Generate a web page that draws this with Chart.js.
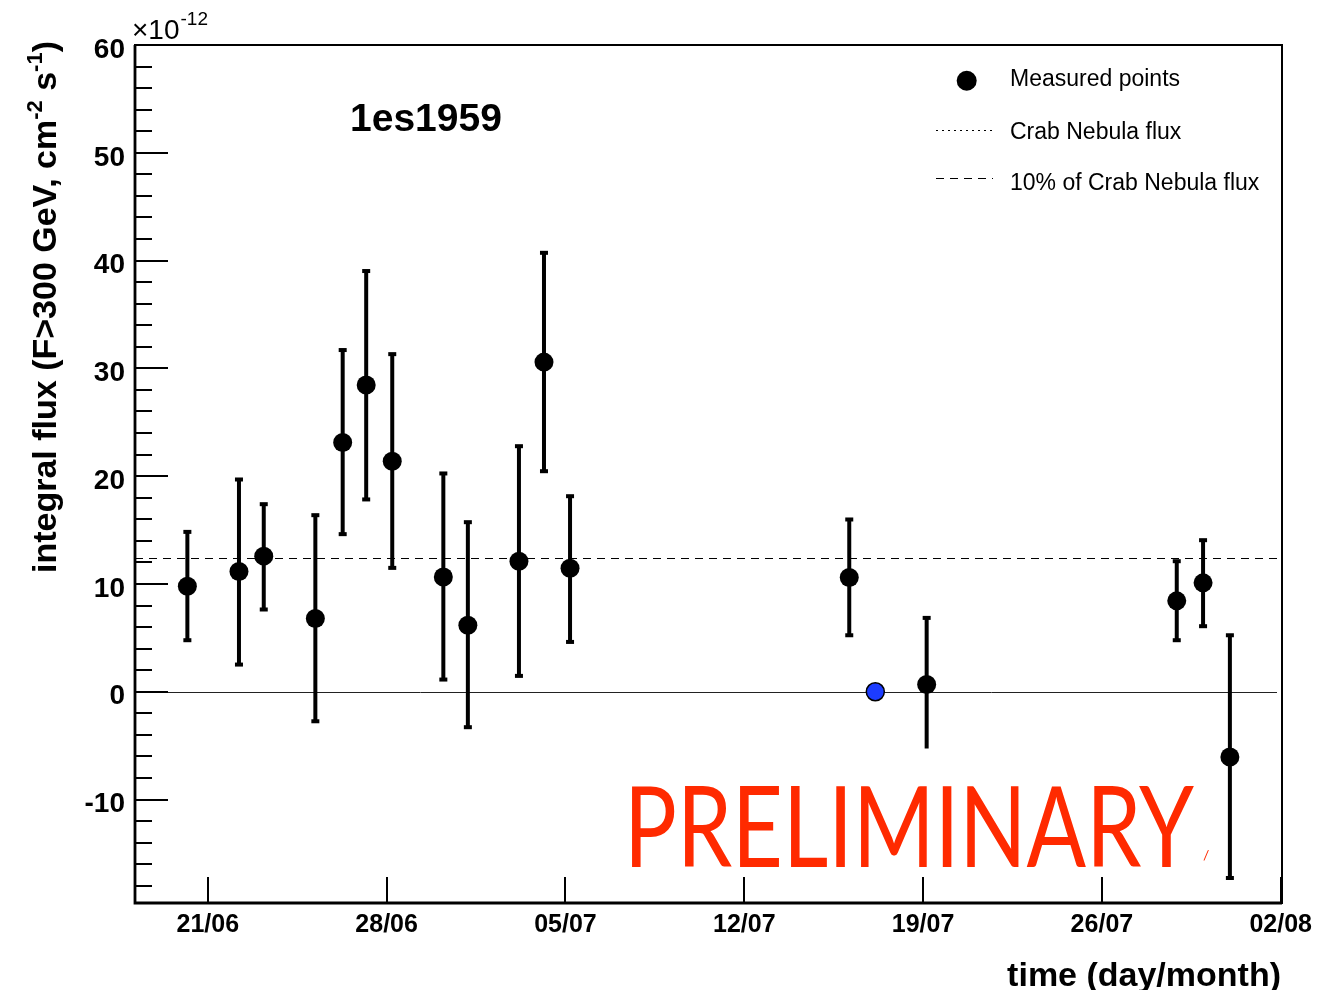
<!DOCTYPE html>
<html><head><meta charset="utf-8">
<script src="https://cdn.jsdelivr.net/npm/chart.js@4.4.1/dist/chart.umd.min.js"></script>
<style>html,body{margin:0;padding:0;background:#fff}#wrap{width:1322px;height:990px;position:relative}</style>
</head><body><div id="wrap"><canvas id="c" width="1322" height="990"></canvas></div>
<script>
// ---- data (days counted from 21/06) ----
const tickDays   = [0, 7, 14, 21, 28, 35, 42];
const tickLabels = ['21/06', '28/06', '05/07', '12/07', '19/07', '26/07', '02/08'];
const yMajorTicks = [-10, 0, 10, 20, 30, 40, 50, 60];
const obsDay   = [-0.80, 1.22, 2.19, 4.21, 5.28, 6.20, 7.22, 9.22, 10.18, 12.18, 13.16, 14.18, 25.11, 28.14, 37.93, 38.96, 40.01];
const obsFlux  = [9.79, 11.16, 12.58, 6.79, 23.13, 28.45, 21.39, 10.65, 6.17, 12.11, 30.58, 11.46, 10.60, 0.67, 8.43, 10.10, -6.05];
const obsUpper = [14.83, 19.69, 17.40, 16.38, 31.70, 39.03, 31.32, 20.25, 15.73, 22.78, 40.72, 18.14, 15.98, 6.85, 12.11, 14.06, 5.24];
const obsLower = [4.78, 2.52, 7.63, -2.74, 14.62, 17.84, 11.49, 1.13, -3.29, 1.47, 20.46, 4.62, 5.24, -5.27, 4.78, 6.08, -17.28];
const lowerCap = [1, 1, 1, 1, 1, 1, 1, 1, 1, 1, 1, 1, 1, 0, 1, 1, 1];
const extraDay  = [26.13];
const extraFlux = [0];
const crabTenth = 12.4;   // 10% of Crab Nebula flux
const yMinorStep = 2;

const FONT = "'Liberation Sans', Arial, Helvetica, sans-serif";

const overlay = {
  id: 'overlay',
  beforeDatasetsDraw(chart) {
    const {ctx, chartArea: a, scales: {x, y}} = chart;
    ctx.save();
    // zero line
    const y0 = Math.round(y.getPixelForValue(0)) + 0.5;
    ctx.strokeStyle = '#222'; ctx.lineWidth = 1;
    ctx.beginPath(); ctx.moveTo(a.left, y0); ctx.lineTo(a.right - 5, y0); ctx.stroke();
    // 10% crab dashed
    const yc = Math.round(y.getPixelForValue(crabTenth)) + 0.5;
    ctx.strokeStyle = '#000'; ctx.lineWidth = 1; ctx.setLineDash([8, 6]);
    ctx.beginPath(); ctx.moveTo(a.left, yc); ctx.lineTo(a.right - 5, yc); ctx.stroke();
    ctx.setLineDash([]);
    // error bars
    ctx.strokeStyle = '#000'; ctx.fillStyle = '#000'; ctx.lineWidth = 4;
    obsDay.forEach((d, i) => {
      const px = x.getPixelForValue(d);
      const pt = y.getPixelForValue(obsUpper[i]);
      const pb = y.getPixelForValue(obsLower[i]);
      ctx.beginPath(); ctx.moveTo(px, pt); ctx.lineTo(px, pb); ctx.stroke();
      ctx.fillRect(px - 4, pt - 2, 8, 4);
      if (lowerCap[i]) ctx.fillRect(px - 4, pb - 2, 8, 4);
    });
    ctx.restore();
  },
  afterDraw(chart) {
    const {ctx, chartArea: a, scales: {x, y}} = chart;
    ctx.save();
    ctx.strokeStyle = '#000';
    // y ticks inside
    ctx.lineWidth = 2;
    for (let v = Math.ceil(y.min / yMinorStep) * yMinorStep; v <= y.max + 1e-9; v += yMinorStep) {
      const py = Math.round(y.getPixelForValue(v));
      const len = yMajorTicks.includes(v) ? 33 : 17;
      ctx.beginPath(); ctx.moveTo(a.left, py); ctx.lineTo(a.left + len, py); ctx.stroke();
    }
    // x ticks inside
    tickDays.forEach(d => {
      const px = Math.round(x.getPixelForValue(d));
      ctx.beginPath(); ctx.moveTo(px, a.bottom); ctx.lineTo(px, a.bottom - 26); ctx.stroke();
    });
    // frame
    ctx.lineWidth = 2;
    ctx.strokeRect(a.left, a.top, a.right - a.left, a.bottom - a.top);
    ctx.lineWidth = 2.8;
    ctx.beginPath(); ctx.moveTo(a.left, a.top); ctx.lineTo(a.left, a.bottom); ctx.lineTo(a.right, a.bottom); ctx.stroke();

    ctx.fillStyle = '#000';
    // exponent
    ctx.textAlign = 'left'; ctx.textBaseline = 'alphabetic';
    ctx.font = '28px ' + FONT;
    ctx.fillText('\u00d710', 132, 39);
    const w10 = ctx.measureText('\u00d710').width;
    ctx.font = '19px ' + FONT;
    ctx.fillText('-12', 132 + w10 + 1, 25);

    // title
    ctx.font = 'bold 39px ' + FONT;
    ctx.fillText('1es1959', 350, 131);

    // y title (rotated, with superscripts)
    ctx.save();
    ctx.translate(56, 307);
    ctx.rotate(-Math.PI / 2);
    const parts = [['integral flux (F>300 GeV, cm', 0], ['-2', 1], [' s', 0], ['-1', 1], [')', 0]];
    const big = 'bold 34px ' + FONT, small = 'bold 22px ' + FONT;
    let tw = 0;
    parts.forEach(([t, s]) => { ctx.font = s ? small : big; tw += ctx.measureText(t).width; });
    let cx = -tw / 2;
    parts.forEach(([t, s]) => {
      ctx.font = s ? small : big;
      ctx.fillText(t, cx, s ? -14 : 0);
      cx += ctx.measureText(t).width;
    });
    ctx.restore();

    // x title
    ctx.textAlign = 'right';
    ctx.font = 'bold 34px ' + FONT;
    ctx.fillText('time (day/month)', 1281, 986);

    // legend
    ctx.textAlign = 'left'; ctx.textBaseline = 'middle';
    ctx.beginPath(); ctx.arc(966.7, 80.7, 10, 0, Math.PI * 2); ctx.fill();
    ctx.lineWidth = 1;
    ctx.setLineDash([2, 4]);
    ctx.beginPath(); ctx.moveTo(936, 130.5); ctx.lineTo(993, 130.5); ctx.stroke();
    ctx.setLineDash([8, 6]);
    ctx.beginPath(); ctx.moveTo(936, 178.5); ctx.lineTo(993, 178.5); ctx.stroke();
    ctx.setLineDash([]);
    ctx.font = '23px ' + FONT;
    ctx.fillText('Measured points', 1010, 80);
    ctx.fillText('Crab Nebula flux', 1010, 133);
    ctx.fillText('10% of Crab Nebula flux', 1010, 184);

    // preliminary stamp (fitted to its box)
    ctx.textBaseline = 'alphabetic';
    ctx.fillStyle = '#ff2a00';
    ctx.font = "113px Lato, 'Open Sans', sans-serif";
    const pw = ctx.measureText('PRELIMINARY').width;
    ctx.save();
    ctx.translate(624, 867);
    ctx.scale(570 / pw, 1);
    ctx.fillText('PRELIMINARY', 0, 0);
    ctx.restore();
    ctx.font = "14px Lato, sans-serif";
    ctx.fillText('/', 1203, 860);
    ctx.restore();
  }
};

new Chart(document.getElementById('c').getContext('2d'), {
  type: 'scatter',
  data: {
    datasets: [
      { label: 'Measured points', data: obsDay.map((d, i) => ({x: d, y: obsFlux[i]})),
        pointRadius: 9.5, pointHoverRadius: 9.5, pointBackgroundColor: '#000', pointBorderWidth: 0 },
      { label: 'extra', data: extraDay.map((d, i) => ({x: d, y: extraFlux[i]})),
        pointRadius: 9, pointHoverRadius: 9, pointBackgroundColor: '#1c3cff', pointBorderColor: '#000', pointBorderWidth: 1.5 }
    ]
  },
  options: {
    responsive: false, animation: false, devicePixelRatio: 1,
    layout: {padding: {top: 45, right: 40, left: 0, bottom: 0}},
    plugins: {legend: {display: false}, tooltip: {enabled: false}},
    scales: {
      x: {
        type: 'linear', min: -2.85, max: 42.05,
        grid: {display: false, drawTicks: false}, border: {display: false},
        afterBuildTicks: s => { s.ticks = tickDays.map(v => ({value: v})); },
        afterFit: s => { s.height = 87; },
        ticks: {autoSkip: false, maxRotation: 0, padding: 7, color: '#000',
          font: {family: FONT, weight: 'bold', size: 25},
          callback: v => { const k = tickDays.indexOf(v); return k >= 0 ? tickLabels[k] : ''; }}
      },
      y: {
        type: 'linear', min: -19.6, max: 60,
        grid: {display: false, drawTicks: false}, border: {display: false},
        afterBuildTicks: s => { s.ticks = yMajorTicks.map(v => ({value: v})); },
        afterFit: s => { s.width = 135; },
        ticks: {autoSkip: false, padding: 10, labelOffset: 5, color: '#000',
          font: {family: FONT, weight: 'bold', size: 28},
          callback: v => String(v)}
      }
    }
  },
  plugins: [overlay]
});
</script></body></html>
